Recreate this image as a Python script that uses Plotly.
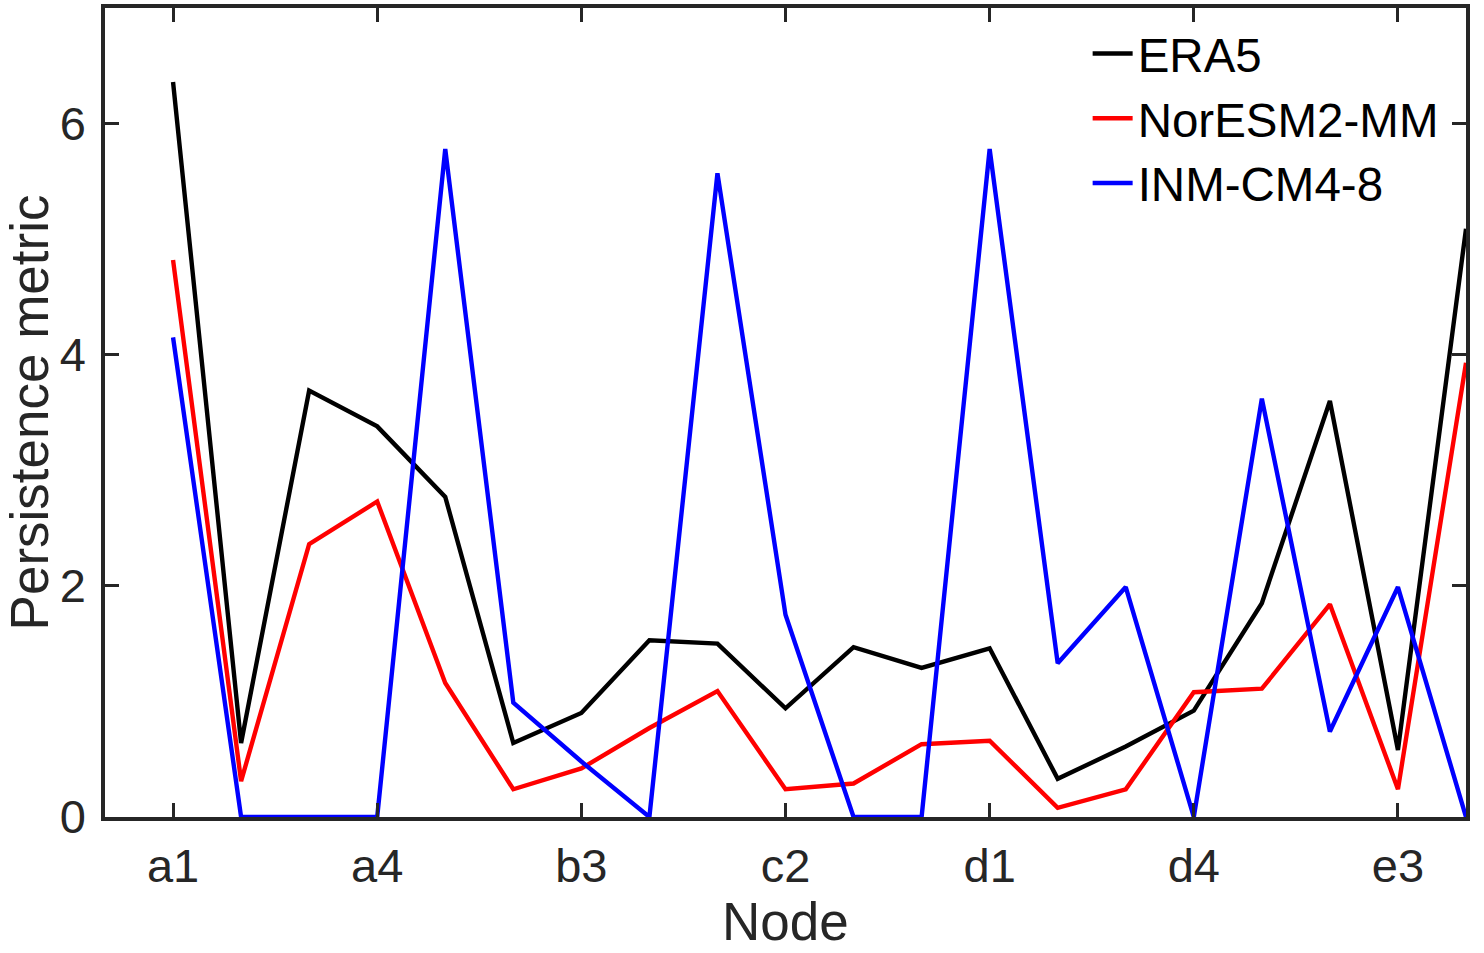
import plotly.graph_objects as go

# Node labels (SOM nodes a1..e4)
nodes = [f"{r}{c}" for r in "abcde" for c in range(1, 5)]

era5 = [6.36, 0.64, 3.69, 3.38, 2.77, 0.64, 0.90, 1.53, 1.50, 0.94,
        1.47, 1.29, 1.46, 0.33, 0.61, 0.92, 1.85, 3.60, 0.58, 5.09]
noresm = [4.82, 0.31, 2.36, 2.73, 1.16, 0.24, 0.42, 0.77, 1.09, 0.24,
          0.29, 0.63, 0.66, 0.08, 0.24, 1.08, 1.11, 1.84, 0.24, 3.93]
inm = [4.15, 0.00, 0.00, 0.00, 5.78, 0.99, 0.48, 0.00, 5.57, 1.75,
       0.00, 0.00, 5.78, 1.33, 1.99, 0.00, 3.62, 0.74, 1.99, 0.00]

series = [("ERA5", era5, "#000000"),
          ("NorESM2-MM", noresm, "#FF0000"),
          ("INM-CM4-8", inm, "#0000FF")]

tick_nodes = nodes[::3]
y_ticks = [0, 2, 4, 6]

AX = "#262626"
FONT = "Liberation Sans, Arial, Helvetica, sans-serif"

fig = go.Figure()
for name, vals, col in series:
    fig.add_trace(go.Scatter(x=nodes, y=vals, mode="lines", name=name,
                             line=dict(color=col, width=4.4)))

fig.update_layout(
    width=1484, height=953,
    margin=dict(l=105, r=18, t=8, b=136),
    paper_bgcolor="white", plot_bgcolor="white",
    font=dict(family=FONT, color=AX, size=47),
    showlegend=True,
    legend=dict(x=0.722, y=0.99, xanchor="left", yanchor="top",
                bgcolor="rgba(0,0,0,0)", borderwidth=0,
                font=dict(size=47.5, color="#000000"),
                tracegroupgap=0, itemwidth=40),
)

fig.update_xaxes(
    type="category", categoryorder="array", categoryarray=nodes,
    range=[-1, 19], tickmode="array", tickvals=tick_nodes, ticktext=tick_nodes,
    showline=True, linecolor=AX, linewidth=3.5, mirror="ticks",
    ticks="inside", ticklen=14, tickwidth=3, tickcolor=AX,
    showgrid=False, zeroline=False, ticklabelstandoff=5, automargin=False,
    tickfont=dict(size=47, color=AX),
)
fig.update_yaxes(
    range=[0, 7], tickmode="array", tickvals=y_ticks,
    showline=True, linecolor=AX, linewidth=3.5, mirror="ticks",
    ticks="inside", ticklen=14, tickwidth=3, tickcolor=AX,
    showgrid=False, zeroline=False, ticklabelstandoff=6, automargin=False,
    tickfont=dict(size=47, color=AX),
    title=dict(text="Persistence metric", font=dict(size=53, color=AX), standoff=14),
)

# x-axis title placed as a paper annotation below the tick labels
fig.add_annotation(text="Node", xref="paper", yref="paper", x=0.5, y=0,
                   xanchor="center", yanchor="bottom", yshift=-136,
                   showarrow=False, font=dict(size=53, color=AX))

fig.write_html("out.html")
